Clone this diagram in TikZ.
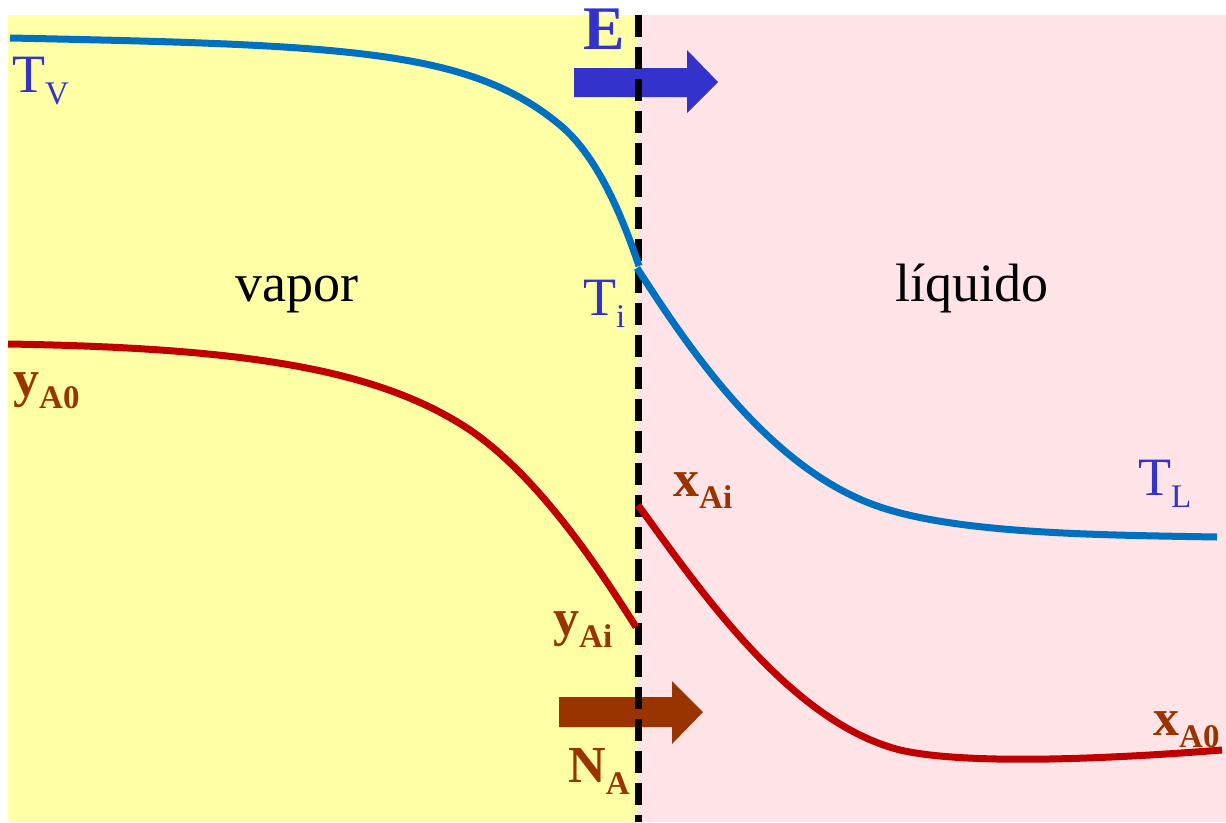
\documentclass[tikz,border=0pt]{standalone}
\usepackage{fontspec}
\setmainfont{Liberation Serif}
\newcommand\lsub[1]{\raisebox{-12pt}{\fontsize{33}{36}\selectfont #1}}
\definecolor{bgyellow}{HTML}{FFFFA5}
\definecolor{bgpink}{HTML}{FFE4E7}
\definecolor{tcurve}{HTML}{0070C0}
\definecolor{ccurve}{HTML}{C00000}
\definecolor{lblue}{HTML}{3333CC}
\definecolor{lbrown}{HTML}{993300}
\begin{document}
\begin{tikzpicture}[x=1pt,y=-1pt,
  lbl/.style={inner sep=0pt,anchor=base west},
  txt/.style={inner sep=0pt,anchor=base,font=\fontsize{54}{60}\selectfont},
  bluelbl/.style={lbl,text=lblue,font=\fontsize{54}{60}\selectfont},
  brownlbl/.style={lbl,text=lbrown,font=\fontsize{52}{60}\selectfont\bfseries},
  curve/.style={line width=7pt,line cap=butt,line join=round}]
\useasboundingbox (0,0) rectangle (1226,822);
\fill[white] (0,0) rectangle (1226,822);
\fill[bgyellow] (8,15) rectangle (638,822);
\fill[bgpink] (638,15) rectangle (1226,822);
% flux arrows
\fill[lblue] (574,68) -- (687,68) -- (687,50) -- (718,82) -- (687,113) -- (687,97) -- (574,97) -- cycle;
\fill[lbrown] (559,697) -- (672,697) -- (672,681) -- (703,712) -- (672,744) -- (672,727) -- (559,727) -- cycle;
% interface
\coordinate (itop) at (638,15);
\coordinate (ibot) at (638,822);
\draw[line width=7pt,dash pattern=on 22pt off 10pt] (itop) -- (ibot);
% temperature profile
\coordinate (tv0) at (10,38);
\coordinate (tv1) at (560,125);
\coordinate (ti1) at (639,266);
\coordinate (ti2) at (637,268);
\coordinate (tl1) at (880,507);
\coordinate (tl0) at (1217,537);
\draw[curve,tcurve] (tv0) .. controls (350,45) and (470,50) .. (tv1)
  .. controls (600,158) and (625,225) .. (ti1);
\draw[curve,tcurve] (ti2) .. controls (690,350) and (770,470) .. (tl1)
  .. controls (960,534) and (1100,535) .. (tl0);
% concentration profile
\coordinate (ya) at (8,344);
\coordinate (yb) at (470,430);
\coordinate (yc) at (636,627);
\coordinate (xa) at (638,505);
\coordinate (xb) at (900,750);
\coordinate (xc) at (1222,750);
\draw[curve,ccurve] (ya) .. controls (250,348) and (380,370) .. (yb)
  .. controls (540,478) and (600,570) .. (yc);
\draw[curve,ccurve] (xa) .. controls (700,590) and (790,722) .. (xb)
  .. controls (970,766) and (1120,758) .. (xc);
% labels
\node[bluelbl] (tv) at (12,92) {T\lsub{V}};
\node[lbl,text=lblue,font=\fontsize{62}{66}\selectfont\bfseries] (e) at (583,49) {E};
\node[bluelbl] (ti) at (583,315) {T\lsub{i}};
\node[bluelbl] (tl) at (1138,495) {T\lsub{L}};
\node[txt] (vap) at (297,301) {vapor};
\node[txt] (liq) at (972,301) {líquido};
\node[brownlbl] (ya0) at (13,396) {y\lsub{A0}};
\node[brownlbl] (xai) at (673,496) {x\lsub{Ai}};
\node[brownlbl] (yai) at (553,635) {y\lsub{Ai}};
\node[brownlbl] (na) at (568,782) {N\lsub{A}};
\node[brownlbl] (xa0) at (1153,735) {x\lsub{A0}};
\end{tikzpicture}
\end{document}
